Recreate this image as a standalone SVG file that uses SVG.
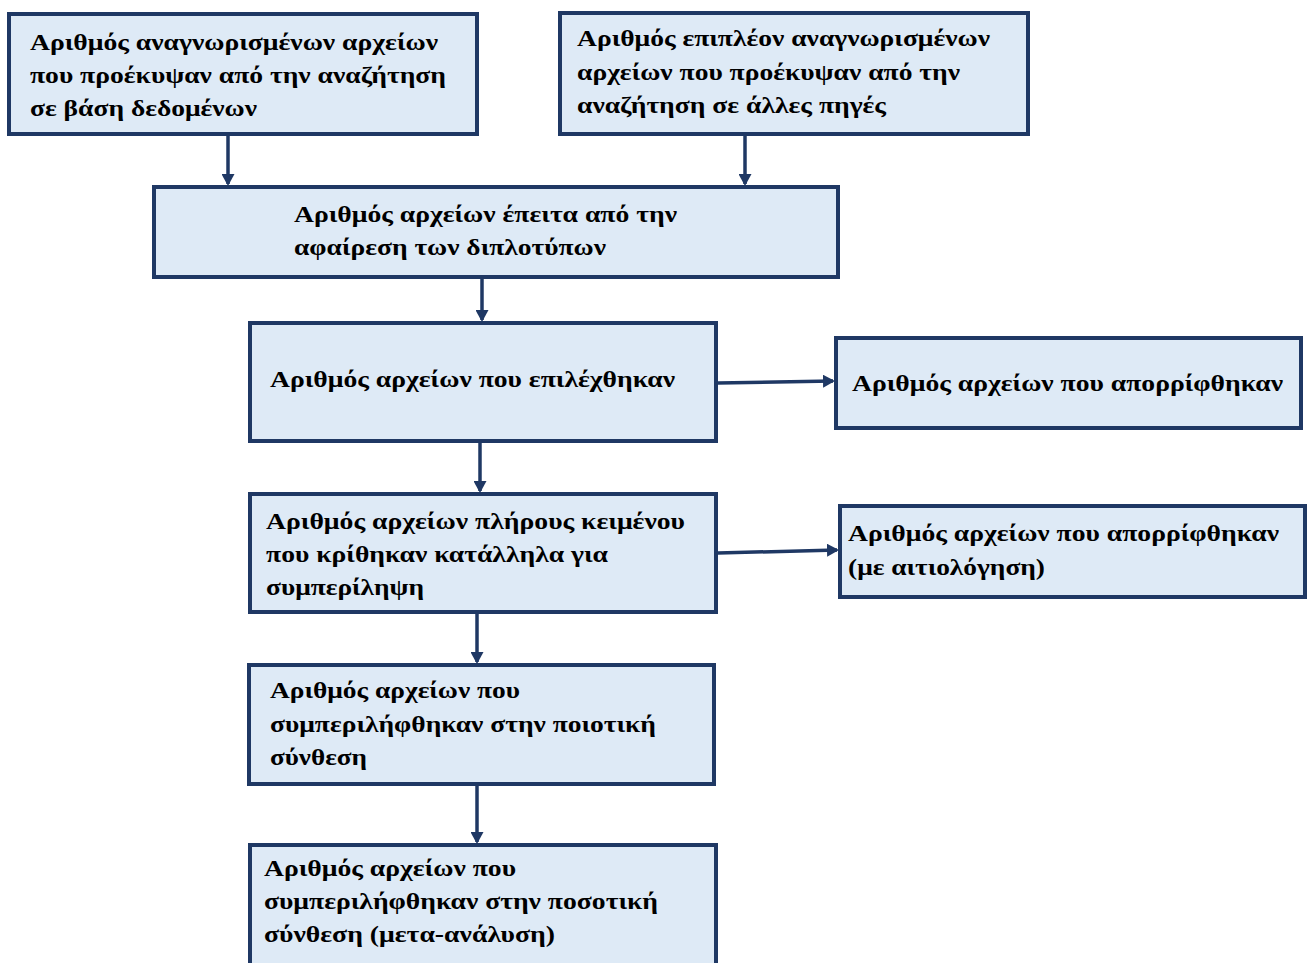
<svg xmlns="http://www.w3.org/2000/svg" width="1310" height="963" viewBox="0 0 1310 963">
<style>
.box{fill:#DEEAF6;stroke:#1F3864;stroke-width:4}
.t{font-family:"Liberation Serif","Times New Roman",serif;font-weight:bold;font-size:24px;fill:#000}
.c{stroke:#1F3864;stroke-width:3.5;fill:none}
</style>
<defs>
<marker id="ah" markerWidth="12" markerHeight="13" refX="10" refY="6.5" orient="auto" markerUnits="userSpaceOnUse">
<path d="M0,0 L12,6.5 L0,13 Z" fill="#1F3864"/>
</marker>
</defs>
<rect width="1310" height="963" fill="#fff"/>
<g id="connectors">
<line class="c" x1="228" y1="136" x2="228" y2="184" marker-end="url(#ah)"/>
<line class="c" x1="745" y1="136" x2="745" y2="184" marker-end="url(#ah)"/>
<line class="c" x1="482" y1="278" x2="482" y2="320" marker-end="url(#ah)"/>
<line class="c" x1="718" y1="383" x2="833" y2="381" marker-end="url(#ah)"/>
<line class="c" x1="480" y1="442" x2="480" y2="491" marker-end="url(#ah)"/>
<line class="c" x1="718" y1="553" x2="837" y2="550" marker-end="url(#ah)"/>
<line class="c" x1="477" y1="613" x2="477" y2="662" marker-end="url(#ah)"/>
<line class="c" x1="477" y1="785" x2="477" y2="842" marker-end="url(#ah)"/>
</g>
<g id="n1">
<rect class="box" x="9" y="14" width="468" height="120"/>
<text class="t" x="30" y="50" textLength="408" lengthAdjust="spacingAndGlyphs">Αριθμός αναγνωρισμένων αρχείων</text>
<text class="t" x="30" y="83" textLength="416" lengthAdjust="spacingAndGlyphs">που προέκυψαν από την αναζήτηση</text>
<text class="t" x="30" y="116" textLength="227" lengthAdjust="spacingAndGlyphs">σε βάση δεδομένων</text>
</g>
<g id="n2">
<rect class="box" x="560" y="13" width="468" height="121"/>
<text class="t" x="577" y="46" textLength="413" lengthAdjust="spacingAndGlyphs">Αριθμός επιπλέον αναγνωρισμένων</text>
<text class="t" x="577" y="80" textLength="383" lengthAdjust="spacingAndGlyphs">αρχείων που προέκυψαν από την</text>
<text class="t" x="577" y="113" textLength="309" lengthAdjust="spacingAndGlyphs">αναζήτηση σε άλλες πηγές</text>
</g>
<g id="n3">
<rect class="box" x="154" y="187" width="684" height="90"/>
<text class="t" x="294" y="222" textLength="383" lengthAdjust="spacingAndGlyphs">Αριθμός αρχείων έπειτα από την</text>
<text class="t" x="294" y="255" textLength="312" lengthAdjust="spacingAndGlyphs">αφαίρεση των διπλοτύπων</text>
</g>
<g id="n4">
<rect class="box" x="250" y="323" width="466" height="118"/>
<text class="t" x="270" y="387" textLength="405" lengthAdjust="spacingAndGlyphs">Αριθμός αρχείων που επιλέχθηκαν</text>
</g>
<g id="n5">
<rect class="box" x="836" y="338" width="465" height="90"/>
<text class="t" x="852" y="391" textLength="431" lengthAdjust="spacingAndGlyphs">Αριθμός αρχείων που απορρίφθηκαν</text>
</g>
<g id="n6">
<rect class="box" x="250" y="494" width="466" height="118"/>
<text class="t" x="266" y="529" textLength="419" lengthAdjust="spacingAndGlyphs">Αριθμός αρχείων πλήρους κειμένου</text>
<text class="t" x="266" y="562" textLength="342" lengthAdjust="spacingAndGlyphs">που κρίθηκαν κατάλληλα για</text>
<text class="t" x="266" y="595" textLength="158" lengthAdjust="spacingAndGlyphs">συμπερίληψη</text>
</g>
<g id="n7">
<rect class="box" x="840" y="506" width="465" height="91"/>
<text class="t" x="848" y="541" textLength="431" lengthAdjust="spacingAndGlyphs">Αριθμός αρχείων που απορρίφθηκαν</text>
<text class="t" x="848" y="575" textLength="197" lengthAdjust="spacingAndGlyphs">(με αιτιολόγηση)</text>
</g>
<g id="n8">
<rect class="box" x="249" y="665" width="465" height="119"/>
<text class="t" x="270" y="698" textLength="250" lengthAdjust="spacingAndGlyphs">Αριθμός αρχείων που</text>
<text class="t" x="270" y="732" textLength="386" lengthAdjust="spacingAndGlyphs">συμπεριλήφθηκαν στην ποιοτική</text>
<text class="t" x="270" y="765" textLength="97" lengthAdjust="spacingAndGlyphs">σύνθεση</text>
</g>
<g id="n9">
<rect class="box" x="250" y="845" width="466" height="122"/>
<text class="t" x="264" y="876" textLength="252" lengthAdjust="spacingAndGlyphs">Αριθμός αρχείων που</text>
<text class="t" x="264" y="909" textLength="394" lengthAdjust="spacingAndGlyphs">συμπεριλήφθηκαν στην ποσοτική</text>
<text class="t" x="264" y="942" textLength="291" lengthAdjust="spacingAndGlyphs">σύνθεση (μετα-ανάλυση)</text>
</g>
</svg>
